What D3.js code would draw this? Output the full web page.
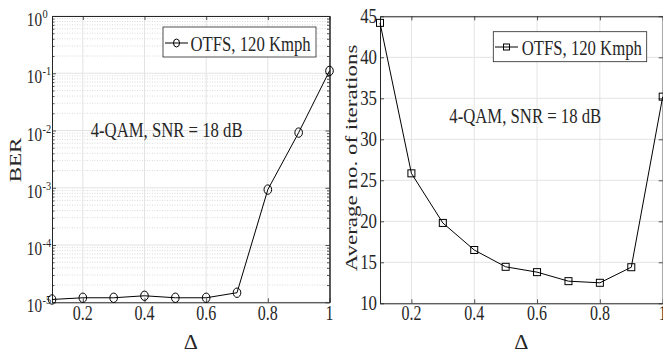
<!DOCTYPE html>
<html><head><meta charset="utf-8">
<script src="https://cdn.jsdelivr.net/npm/d3@7"></script>
<style>
body{margin:0;background:#fff}
svg{display:block}
text{font-family:"Liberation Serif","Times New Roman",Times,serif;fill:#262626}
</style>
</head><body>
<svg id="c" width="663" height="354"></svg>
<script>
// ---- data ----
const deltas = [0.1, 0.2, 0.3, 0.4, 0.5, 0.6, 0.7, 0.8, 0.9, 1.0];
const berValues = [1.12e-5, 1.2e-5, 1.2e-5, 1.3e-5, 1.2e-5, 1.2e-5, 1.47e-5, 9.3e-4, 9.2e-3, 0.11];
const iterValues = [44.2, 25.85, 19.8, 16.5, 14.45, 13.8, 12.7, 12.5, 14.4, 35.2];
const xTicks = [0.2, 0.4, 0.6, 0.8, 1];
const xTickLabels = ["0.2", "0.4", "0.6", "0.8", "1"];
const berTicks = [1e-5, 1e-4, 1e-3, 1e-2, 1e-1, 1];
const berExponents = ["-5", "-4", "-3", "-2", "-1", "0"];
const iterTicks = [10, 15, 20, 25, 30, 35, 40, 45];
const legendLabel = "OTFS, 120 Kmph";
const annotation = "4-QAM, SNR = 18 dB";
const berLabel = "BER";
const iterLabel = "Average no. of iterations";
const xLabel = "\u0394";

const svg = d3.select("#c");
const AX = "#262626", GRID = "#e3e3e3", MINOR = "#d2d2d2";
const SX = 0.76;

function sText(g, x, y, str, size, anchor, sx = SX) {
  return g.append("text")
    .attr("transform", `translate(${x},${y}) scale(${sx},1)`)
    .attr("font-size", size)
    .attr("text-anchor", anchor)
    .text(str);
}
function styleAxis(sel) {
  sel.select(".domain").attr("stroke", AX).attr("stroke-width", 1);
  sel.selectAll(".tick line").attr("stroke", AX).attr("stroke-width", 0.8);
  sel.selectAll(".tick text").remove();
}

// ================= LEFT PANEL =================
const xL = d3.scaleLinear().domain([0.1, 1]).range([52, 329.5]);
const yL = d3.scaleLog().domain([1e-5, 1]).range([302.3, 16]);
const gL = svg.append("g");

const minorVals = [];
berTicks.slice(0, -1).forEach(t => { for (let k = 2; k <= 9; k++) minorVals.push(k * t); });

// minor grid
gL.selectAll("line.mg").data(minorVals).join("line")
  .attr("x1", xL(0.1)).attr("x2", xL(1))
  .attr("y1", d => yL(d)).attr("y2", d => yL(d))
  .attr("stroke", MINOR).attr("stroke-width", 0.8).attr("stroke-dasharray", "1,1.5");
// major grid
gL.selectAll("line.gy").data(berTicks).join("line")
  .attr("x1", xL(0.1)).attr("x2", xL(1))
  .attr("y1", d => yL(d)).attr("y2", d => yL(d))
  .attr("stroke", GRID).attr("stroke-width", 1);
gL.selectAll("line.gx").data(xTicks).join("line")
  .attr("x1", d => xL(d)).attr("x2", d => xL(d))
  .attr("y1", yL(1e-5)).attr("y2", yL(1))
  .attr("stroke", GRID).attr("stroke-width", 1);

// axes (box)
gL.append("g").attr("transform", `translate(0,${yL(1e-5)})`)
  .call(d3.axisBottom(xL).tickValues(xTicks).tickSizeInner(-4).tickSizeOuter(0).tickFormat("")).call(styleAxis);
gL.append("g").attr("transform", `translate(0,${yL(1)})`)
  .call(d3.axisTop(xL).tickValues(xTicks).tickSizeInner(-4).tickSizeOuter(0).tickFormat("")).call(styleAxis);
gL.append("g").attr("transform", `translate(${xL(0.1)},0)`)
  .call(d3.axisLeft(yL).tickValues(berTicks).tickSizeInner(-4).tickSizeOuter(0).tickFormat("")).call(styleAxis);
gL.append("g").attr("transform", `translate(${xL(0.1)},0)`)
  .call(d3.axisLeft(yL).tickValues(minorVals).tickSizeInner(-2.5).tickSizeOuter(0).tickFormat("")).call(styleAxis);
gL.append("g").attr("transform", `translate(${xL(1)},0)`)
  .call(d3.axisRight(yL).tickValues(berTicks).tickSizeInner(-4).tickSizeOuter(0).tickFormat("")).call(styleAxis);
gL.append("g").attr("transform", `translate(${xL(1)},0)`)
  .call(d3.axisRight(yL).tickValues(minorVals).tickSizeInner(-2.5).tickSizeOuter(0).tickFormat("")).call(styleAxis);

// tick labels
xTicks.forEach((v, i) => sText(gL, xL(v), 319.5, xTickLabels[i], 20, "middle", 0.8));
berTicks.forEach((v, i) => {
  sText(gL, 42, yL(v) + 10, "10", 19, "end", 0.8);
  sText(gL, 42.5, yL(v) + 2, berExponents[i], 13, "start", 0.8);
});

// data line + markers
gL.append("path").datum(deltas.map((d, i) => [d, berValues[i]]))
  .attr("fill", "none").attr("stroke", "#000").attr("stroke-width", 1)
  .attr("d", d3.line().x(d => xL(d[0])).y(d => yL(d[1])));
gL.selectAll("ellipse.m").data(deltas.map((d, i) => [d, berValues[i]])).join("ellipse")
  .attr("cx", d => xL(d[0])).attr("cy", d => yL(d[1]))
  .attr("rx", 3.8).attr("ry", 4.7)
  .attr("fill", "none").attr("stroke", "#000").attr("stroke-width", 1);

// legend
gL.append("rect").attr("x", 163).attr("y", 27).attr("width", 153).attr("height", 30)
  .attr("fill", "#fff").attr("stroke", AX).attr("stroke-width", 0.8);
gL.append("line").attr("x1", 165).attr("x2", 188).attr("y1", 43).attr("y2", 43).attr("stroke", "#000");
gL.append("ellipse").attr("cx", 176.5).attr("cy", 43).attr("rx", 3).attr("ry", 4)
  .attr("fill", "none").attr("stroke", "#000");
sText(gL, 190.5, 51, legendLabel, 22, "start");

// annotation
sText(gL, 90.7, 137.3, annotation, 22, "start");

// axis labels
gL.append("text").attr("transform", `translate(20.5,160) scale(${SX},1) rotate(-90)`)
  .attr("font-size", 23).attr("text-anchor", "middle").text(berLabel);
gL.append("text").attr("x", (xL(0.1) + xL(1)) / 2).attr("y", 349)
  .attr("font-size", 22).attr("text-anchor", "middle").text(xLabel);

// ================= RIGHT PANEL =================
const xR = d3.scaleLinear().domain([0.1, 1]).range([380, 662.7]);
const yR = d3.scaleLinear().domain([10, 45]).range([303.3, 16.3]);
const gR = svg.append("g");

gR.selectAll("line.gy").data(iterTicks).join("line")
  .attr("x1", xR(0.1)).attr("x2", xR(1))
  .attr("y1", d => yR(d)).attr("y2", d => yR(d))
  .attr("stroke", GRID).attr("stroke-width", 1);
gR.selectAll("line.gx").data(xTicks).join("line")
  .attr("x1", d => xR(d)).attr("x2", d => xR(d))
  .attr("y1", yR(10)).attr("y2", yR(45))
  .attr("stroke", GRID).attr("stroke-width", 1);

gR.append("g").attr("transform", `translate(0,${yR(10)})`)
  .call(d3.axisBottom(xR).tickValues(xTicks).tickSizeInner(-4).tickSizeOuter(0).tickFormat("")).call(styleAxis);
gR.append("g").attr("transform", `translate(0,${yR(45)})`)
  .call(d3.axisTop(xR).tickValues(xTicks).tickSizeInner(-4).tickSizeOuter(0).tickFormat("")).call(styleAxis);
gR.append("g").attr("transform", `translate(${xR(0.1)},0)`)
  .call(d3.axisLeft(yR).tickValues(iterTicks).tickSizeInner(-4).tickSizeOuter(0).tickFormat("")).call(styleAxis);
gR.append("g").attr("transform", `translate(${xR(1)},0)`)
  .call(d3.axisRight(yR).tickValues(iterTicks).tickSizeInner(-4).tickSizeOuter(0).tickFormat("")).call(styleAxis);

xTicks.forEach((v, i) => sText(gR, xR(v), 319.5, xTickLabels[i], 20, "middle", 0.8));
iterTicks.forEach(v => sText(gR, 377, yR(v) + 6.5, String(v), 21, "end", 0.8));

gR.append("path").datum(deltas.map((d, i) => [d, iterValues[i]]))
  .attr("fill", "none").attr("stroke", "#000").attr("stroke-width", 1)
  .attr("d", d3.line().x(d => xR(d[0])).y(d => yR(d[1])));
gR.selectAll("rect.m").data(deltas.map((d, i) => [d, iterValues[i]])).join("rect")
  .attr("x", d => xR(d[0]) - 3.5).attr("y", d => yR(d[1]) - 3.5)
  .attr("width", 7).attr("height", 7)
  .attr("fill", "none").attr("stroke", "#000").attr("stroke-width", 1);

gR.append("rect").attr("x", 493.3).attr("y", 31.7).attr("width", 153.4).attr("height", 30)
  .attr("fill", "#fff").attr("stroke", AX).attr("stroke-width", 0.8);
gR.append("line").attr("x1", 495).attr("x2", 518).attr("y1", 47).attr("y2", 47).attr("stroke", "#000");
gR.append("rect").attr("x", 503.5).attr("y", 44).attr("width", 6).attr("height", 6)
  .attr("fill", "none").attr("stroke", "#000");
sText(gR, 521.7, 55, legendLabel, 22, "start");

sText(gR, 449.3, 122.5, annotation, 22, "start");

gR.append("text").attr("transform", `translate(356.5,158) scale(${SX},1) rotate(-90)`)
  .attr("font-size", 23).attr("text-anchor", "middle").text(iterLabel);
gR.append("text").attr("x", (xR(0.1) + xR(1)) / 2).attr("y", 349)
  .attr("font-size", 22).attr("text-anchor", "middle").text(xLabel);
</script>
</body></html>
